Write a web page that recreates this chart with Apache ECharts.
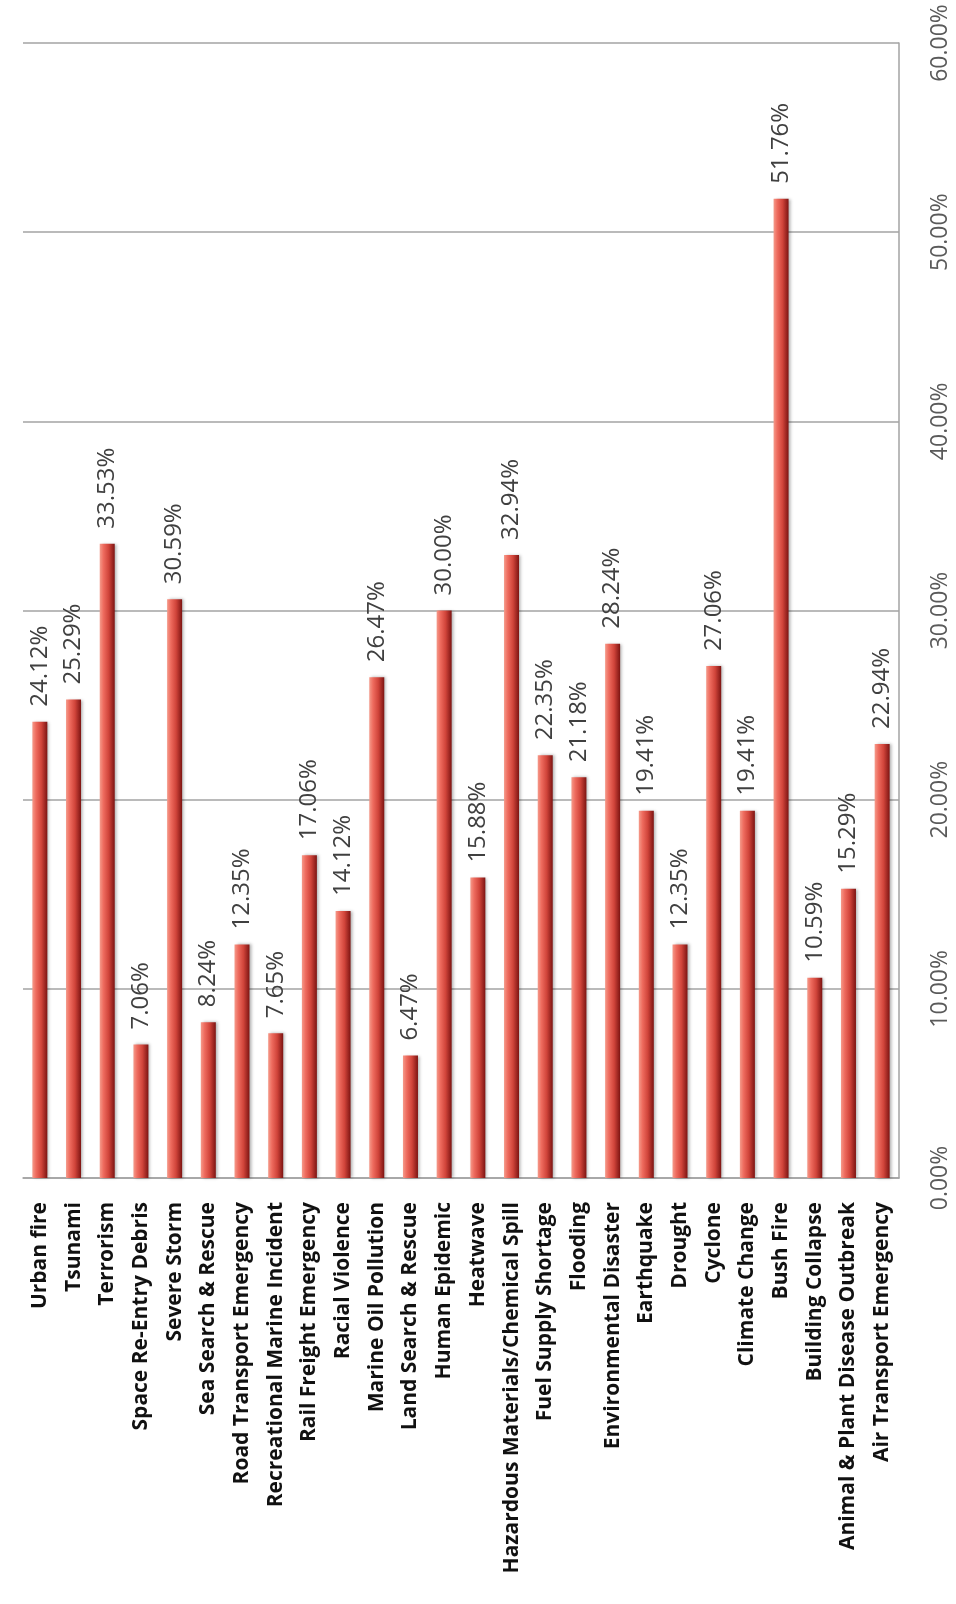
<!DOCTYPE html>
<html>
<head>
<meta charset="utf-8">
<script src="https://cdn.jsdelivr.net/npm/echarts@6/dist/echarts.min.js"></script>
<style>
html,body{margin:0;padding:0;background:#ffffff;}
#chart{width:956px;height:1604px;}
</style>
</head>
<body>
<div id="chart"></div>
<script>
const categories = [
  "Urban fire", "Tsunami", "Terrorism", "Space Re-Entry Debris", "Severe Storm",
  "Sea Search & Rescue", "Road Transport Emergency", "Recreational Marine Incident",
  "Rail Freight Emergency", "Racial Violence", "Marine Oil Pollution",
  "Land Search & Rescue", "Human Epidemic", "Heatwave",
  "Hazardous Materials/Chemical Spill", "Fuel Supply Shortage", "Flooding",
  "Environmental Disaster", "Earthquake", "Drought", "Cyclone", "Climate Change",
  "Bush Fire", "Building Collapse", "Animal & Plant Disease Outbreak",
  "Air Transport Emergency"
];
const percentValues = [
  24.12, 25.29, 33.53, 7.06, 30.59,
  8.24, 12.35, 7.65,
  17.06, 14.12, 26.47,
  6.47, 30.00, 15.88,
  32.94, 22.35, 21.18,
  28.24, 19.41, 12.35, 27.06, 19.41,
  51.76, 10.59, 15.29,
  22.94
];
const axisMin = 0;
const axisMax = 60;
const axisStep = 10;

const chart = echarts.init(document.getElementById('chart'), null, {renderer: 'canvas'});
const barGradient = new echarts.graphic.LinearGradient(0, 0, 1, 0, [
  {offset: 0, color: '#f59a8a'},
  {offset: 0.25, color: '#ee6b5e'},
  {offset: 0.6, color: '#d0443a'},
  {offset: 1, color: '#7d1412'}
]);
chart.setOption({
  animation: false,
  backgroundColor: '#ffffff',
  grid: {left: 23, right: 57, top: 43, bottom: 426, containLabel: false},
  xAxis: {
    type: 'category',
    data: categories,
    axisLine: {show: true, lineStyle: {color: '#a3a3a3', width: 1.5}},
    axisTick: {show: false},
    axisLabel: {
      interval: 0,
      rotate: 90,
      margin: 24,
      fontFamily: 'Open Sans',
      fontWeight: 'bold',
      fontSize: 21,
      color: '#111111'
    }
  },
  yAxis: {
    type: 'value',
    position: 'right',
    min: axisMin,
    max: axisMax,
    interval: axisStep,
    axisLine: {show: true, lineStyle: {color: '#a3a3a3', width: 1.5}},
    axisTick: {show: false},
    splitLine: {show: true, lineStyle: {color: '#a3a3a3', width: 1.5}},
    axisLabel: {
      rotate: 90,
      margin: 30,
      fontFamily: 'Open Sans',
      fontSize: 23,
      color: '#5a5a5a',
      formatter: v => v.toFixed(2) + '%'
    }
  },
  series: [{
    type: 'bar',
    data: percentValues,
    barWidth: 15,
    itemStyle: {
      color: barGradient,
      shadowColor: 'rgba(0,0,0,0.3)',
      shadowBlur: 3,
      shadowOffsetX: 2,
      shadowOffsetY: 0
    },
    label: {
      show: true,
      position: 'top',
      rotate: 90,
      align: 'left',
      verticalAlign: 'middle',
      distance: 15,
      fontFamily: 'Open Sans',
      fontSize: 24,
      color: '#404040',
      formatter: p => p.value.toFixed(2) + '%'
    }
  }]
});
</script>
</body>
</html>
